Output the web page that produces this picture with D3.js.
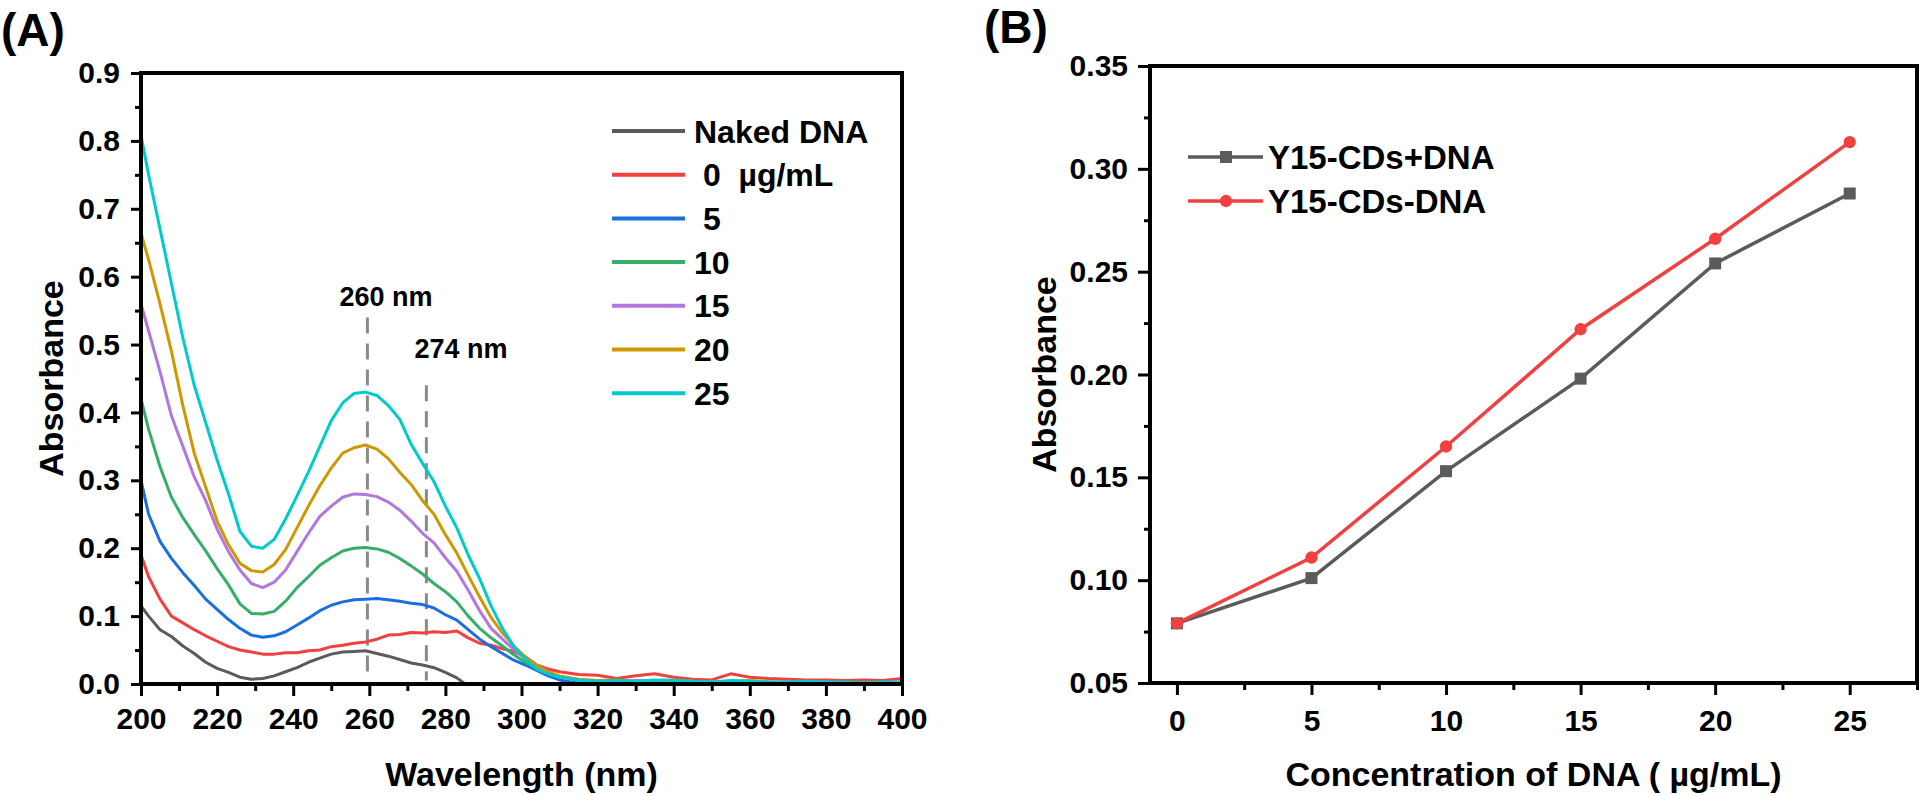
<!DOCTYPE html>
<html>
<head>
<meta charset="utf-8">
<script src="https://cdn.jsdelivr.net/npm/d3@7"></script>
<style>
  html, body { margin: 0; padding: 0; background: #fff; }
  svg { display: block; }
  text { font-family: "Liberation Sans", Arial, sans-serif; font-weight: bold; fill: #000; }
</style>
</head>
<body>
<svg id="chart" width="1920" height="796"></svg>
<script>
// ---------------- DATA: Panel A (UV-vis spectra) ----------------
const wavelengths = [200,202,205,208,211,214,217,220,223,226,229,232,235,238,241,244,247,250,253,256,259,262,265,268,271,274,277,280,283,286,289,292,295,298,301,304,307,310,315,320,325,330,335,340,345,350,355,360,365,370,375,380,385,390,395,400];

const seriesNames = ["Naked DNA", " 0  µg/mL", " 5", "10", "15", "20", "25"];
const seriesColors = ["#5b5b5b", "#F14040", "#1A6FDF", "#37AD6B", "#B177DE", "#CC9900", "#00CBCC"];

const nakedDNA = [0.115,0.1,0.08,0.07,0.056,0.045,0.032,0.023,0.017,0.01,0.007,0.008,0.012,0.018,0.024,0.032,0.038,0.044,0.047,0.048,0.049,0.045,0.041,0.036,0.031,0.028,0.024,0.017,0.009,-0.003,
  null,null,null,null,null,null,null,null,null,null,null,null,null,null,null,null,null,null,null,null,null,null,null,null,null,null];
const conc0 = [0.19,0.158,0.125,0.1,0.09,0.08,0.071,0.063,0.055,0.05,0.047,0.044,0.044,0.046,0.046,0.049,0.05,0.055,0.057,0.06,0.062,0.066,0.072,0.073,0.076,0.075,0.077,0.076,0.078,0.068,0.06,0.057,0.052,0.048,0.04,0.028,0.022,0.018,
  0.014,0.013,0.008,0.012,0.015,0.01,0.007,0.006,0.015,0.01,0.008,0.007,0.006,0.006,0.005,0.006,0.005,0.008];
const conc5 = [0.30,0.25,0.21,0.185,0.164,0.145,0.125,0.11,0.095,0.082,0.072,0.069,0.071,0.077,0.087,0.097,0.108,0.116,0.121,0.124,0.125,0.126,0.124,0.122,0.119,0.117,0.112,0.102,0.094,0.08,0.066,0.055,0.045,0.035,0.028,0.02,0.012,0.006,
  0.001,0.001,0.002,0.001,0.002,0.001,0.001,0.002,0.001,0.001,0.001,0.001,0.001,0.001,0.001,0.001,0.001,0.001];
const conc10 = [0.42,0.375,0.32,0.275,0.245,0.22,0.196,0.17,0.146,0.118,0.104,0.103,0.107,0.122,0.142,0.158,0.175,0.186,0.196,0.2,0.201,0.199,0.194,0.185,0.174,0.162,0.148,0.136,0.121,0.1,0.082,0.068,0.056,0.043,0.032,0.022,0.016,0.011,
  0.006,0.003,0.004,0.003,0.005,0.003,0.002,0.003,0.002,0.003,0.002,0.003,0.002,0.002,0.001,0.002,0.001,0.002];
const conc15 = [0.56,0.52,0.46,0.395,0.35,0.305,0.27,0.228,0.195,0.168,0.148,0.142,0.15,0.168,0.195,0.222,0.247,0.262,0.275,0.28,0.279,0.276,0.268,0.256,0.24,0.222,0.208,0.186,0.166,0.138,0.108,0.082,0.066,0.051,0.038,0.027,0.018,0.011,
  0.006,0.004,0.003,0.005,0.004,0.003,0.004,0.003,0.002,0.004,0.003,0.002,0.002,0.003,0.002,0.002,0.001,0.002];
const conc20 = [0.664,0.625,0.56,0.49,0.41,0.34,0.29,0.24,0.205,0.178,0.167,0.165,0.176,0.198,0.23,0.262,0.292,0.318,0.34,0.348,0.352,0.346,0.332,0.312,0.294,0.27,0.25,0.22,0.193,0.16,0.128,0.098,0.075,0.056,0.04,0.027,0.018,0.012,
  0.007,0.005,0.006,0.004,0.005,0.006,0.004,0.003,0.004,0.005,0.003,0.002,0.003,0.002,0.002,0.002,0.001,0.002];
const conc25 = [0.808,0.75,0.67,0.59,0.51,0.44,0.385,0.33,0.28,0.225,0.203,0.2,0.213,0.243,0.277,0.312,0.35,0.388,0.414,0.428,0.43,0.425,0.41,0.39,0.353,0.325,0.298,0.262,0.23,0.19,0.155,0.115,0.082,0.055,0.037,0.022,0.015,0.01,
  0.006,0.004,0.005,0.004,0.006,0.005,0.004,0.003,0.005,0.004,0.003,0.003,0.004,0.003,0.003,0.002,0.003,0.003];
const spectra = [nakedDNA, conc0, conc5, conc10, conc15, conc20, conc25];

const peakMarks = [259.5, 275];
const peakLabels = ["260 nm", "274 nm"];
const peakTops = [0.54, 0.44];

const xTicksA = [200,220,240,260,280,300,320,340,360,380,400];
const yTicksA = [0.0,0.1,0.2,0.3,0.4,0.5,0.6,0.7,0.8,0.9];

// ---------------- DATA: Panel B ----------------
const concentrations = [0, 5, 10, 15, 20, 25];
const seriesBNames = ["Y15-CDs+DNA", "Y15-CDs-DNA"];
const seriesBColors = ["#5b5b5b", "#F14040"];
const absPlus = [0.079, 0.101, 0.153, 0.198, 0.254, 0.288];
const absMinus = [0.079, 0.111, 0.165, 0.222, 0.266, 0.313];
const xTicksB = [0, 5, 10, 15, 20, 25];
const yTicksB = [0.05, 0.10, 0.15, 0.20, 0.25, 0.30, 0.35];

// ---------------- DRAW ----------------
const svg = d3.select("#chart");
svg.append("rect").attr("width", 1920).attr("height", 796).attr("fill", "#fff");

function minorTicks(lo, hi, step) {
  const out = [];
  for (let v = lo; v <= hi + 1e-9; v += step) out.push(+v.toFixed(6));
  return out;
}

function styleAxis(g) {
  g.select(".domain").remove();
  g.selectAll(".tick line").attr("stroke", "#000").attr("stroke-width", 3);
  g.selectAll(".tick text").style("font-size", "30px").attr("fill", "#000");
}

// ---- Panel A ----
const A = { l: 141, r: 902, t: 73, b: 684 };
const xA = d3.scaleLinear().domain([200, 400]).range([A.l, A.r]);
const yA = d3.scaleLinear().domain([0, 0.9]).range([A.b, A.t]);

svg.append("defs").append("clipPath").attr("id", "clipA")
  .append("rect").attr("x", A.l).attr("y", A.t).attr("width", A.r - A.l).attr("height", A.b - A.t);

svg.append("g").attr("transform", `translate(0,${A.b})`)
  .call(d3.axisBottom(xA).tickValues(minorTicks(210, 390, 20)).tickSize(7).tickFormat(""))
  .call(styleAxis);
svg.append("g").attr("transform", `translate(${A.l},0)`)
  .call(d3.axisLeft(yA).tickValues(minorTicks(0.05, 0.85, 0.1)).tickSize(6).tickFormat(""))
  .call(styleAxis);
svg.append("g").attr("transform", `translate(0,${A.b})`)
  .call(d3.axisBottom(xA).tickValues(xTicksA).tickSize(12).tickPadding(12).tickFormat(d3.format("d")))
  .call(styleAxis);
svg.append("g").attr("transform", `translate(${A.l},0)`)
  .call(d3.axisLeft(yA).tickValues(yTicksA).tickSize(10).tickPadding(11).tickFormat(d3.format(".1f")))
  .call(styleAxis);

const guides = svg.append("g");
peakMarks.forEach((w, i) => {
  guides.append("line")
    .attr("x1", xA(w)).attr("x2", xA(w))
    .attr("y1", yA(peakTops[i])).attr("y2", yA(0.005))
    .attr("stroke", "#8a8a8a").attr("stroke-width", 3).attr("stroke-dasharray", "16,10");
});

const lineA = d3.line()
  .defined(d => d[1] !== null)
  .x(d => xA(d[0])).y(d => yA(d[1]));
const curveG = svg.append("g").attr("clip-path", "url(#clipA)");
spectra.forEach((vals, i) => {
  const pts = wavelengths.map((w, j) => [w, vals[j]]);
  curveG.append("path").datum(pts)
    .attr("d", lineA)
    .attr("fill", "none")
    .attr("stroke", seriesColors[i])
    .attr("stroke-width", 3)
    .attr("stroke-linejoin", "round");
});

const peakLabelPos = [[386, 306], [461, 358]];
peakLabels.forEach((t, i) => {
  svg.append("text").attr("x", peakLabelPos[i][0]).attr("y", peakLabelPos[i][1])
    .attr("text-anchor", "middle").style("font-size", "27px").text(t);
});

svg.append("rect").attr("x", A.l).attr("y", A.t).attr("width", A.r - A.l).attr("height", A.b - A.t)
  .attr("fill", "none").attr("stroke", "#000").attr("stroke-width", 4);

const legA = svg.append("g");
seriesNames.forEach((name, i) => {
  const y = 131 + i * 43.7;
  legA.append("line").attr("x1", 612).attr("x2", 685).attr("y1", y).attr("y2", y)
    .attr("stroke", seriesColors[i]).attr("stroke-width", 4);
  legA.append("text").attr("x", 694).attr("y", y + 11.5)
    .style("font-size", "32px").style("white-space", "pre").attr("xml:space", "preserve").text(name);
});

svg.append("text").attr("x", A.l + (A.r - A.l) / 2).attr("y", 786)
  .attr("text-anchor", "middle").style("font-size", "34px").text("Wavelength (nm)");
svg.append("text").attr("transform", `translate(63,${(A.t + A.b) / 2}) rotate(-90)`)
  .attr("text-anchor", "middle").style("font-size", "34px").text("Absorbance");
svg.append("text").attr("x", 1).attr("y", 46).style("font-size", "46px").text("(A)");

// ---- Panel B ----
const B = { l: 1150, r: 1917, t: 66, b: 683 };
const xB = d3.scaleLinear().domain([-1, 27.5]).range([B.l, B.r]);
const yB = d3.scaleLinear().domain([0.05, 0.35]).range([B.b, B.t]);

svg.append("g").attr("transform", `translate(0,${B.b})`)
  .call(d3.axisBottom(xB).tickValues(minorTicks(2.5, 27.5, 5)).tickSize(7).tickFormat(""))
  .call(styleAxis);
svg.append("g").attr("transform", `translate(${B.l},0)`)
  .call(d3.axisLeft(yB).tickValues(minorTicks(0.075, 0.325, 0.05)).tickSize(6).tickFormat(""))
  .call(styleAxis);
svg.append("g").attr("transform", `translate(0,${B.b})`)
  .call(d3.axisBottom(xB).tickValues(xTicksB).tickSize(12).tickPadding(15).tickFormat(d3.format("d")))
  .call(styleAxis);
svg.append("g").attr("transform", `translate(${B.l},0)`)
  .call(d3.axisLeft(yB).tickValues(yTicksB).tickSize(12).tickPadding(10).tickFormat(d3.format(".2f")))
  .call(styleAxis);

const lineB = d3.line().x(d => xB(d[0])).y(d => yB(d[1]));
const seriesB = [absPlus, absMinus];
seriesB.forEach((vals, i) => {
  const pts = concentrations.map((c, j) => [c, vals[j]]);
  svg.append("path").datum(pts).attr("d", lineB)
    .attr("fill", "none").attr("stroke", seriesBColors[i]).attr("stroke-width", 3.5);
  const sym = i === 0 ? d3.symbolSquare : d3.symbolCircle;
  const size = i === 0 ? 144 : 120;
  svg.append("g").selectAll("path").data(pts).join("path")
    .attr("transform", d => `translate(${xB(d[0])},${yB(d[1])})`)
    .attr("d", d3.symbol().type(sym).size(size))
    .attr("fill", seriesBColors[i]);
});

svg.append("rect").attr("x", B.l).attr("y", B.t).attr("width", B.r - B.l).attr("height", B.b - B.t)
  .attr("fill", "none").attr("stroke", "#000").attr("stroke-width", 4);

seriesBNames.forEach((name, i) => {
  const y = 157 + i * 44;
  svg.append("line").attr("x1", 1188).attr("x2", 1263).attr("y1", y).attr("y2", y)
    .attr("stroke", seriesBColors[i]).attr("stroke-width", 3.5);
  const sym = i === 0 ? d3.symbolSquare : d3.symbolCircle;
  svg.append("path").attr("transform", `translate(1226,${y})`)
    .attr("d", d3.symbol().type(sym).size(i === 0 ? 144 : 120))
    .attr("fill", seriesBColors[i]);
  svg.append("text").attr("x", 1268).attr("y", y + 12)
    .style("font-size", "33px").text(name);
});

svg.append("text").attr("x", B.l + (B.r - B.l) / 2).attr("y", 786)
  .attr("text-anchor", "middle").style("font-size", "34px").text("Concentration of DNA ( µg/mL)");
svg.append("text").attr("transform", `translate(1056,${(B.t + B.b) / 2}) rotate(-90)`)
  .attr("text-anchor", "middle").style("font-size", "34px").text("Absorbance");
svg.append("text").attr("x", 984).attr("y", 43).style("font-size", "46px").text("(B)");
</script>
</body>
</html>
